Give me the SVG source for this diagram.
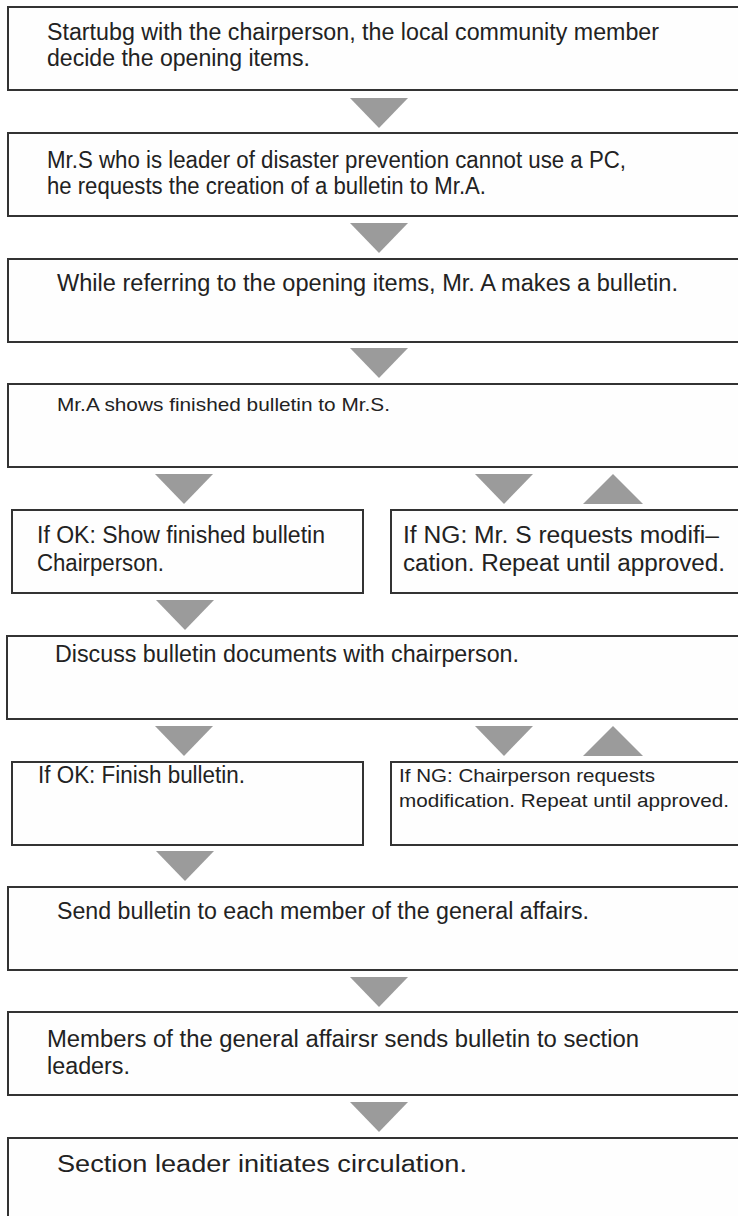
<svg xmlns="http://www.w3.org/2000/svg" width="738" height="1216" viewBox="0 0 738 1216">
  <style>
    .box { fill: #fefefe; stroke: #333; stroke-width: 2; }
    .tri { fill: #9b9b9b; }
    .t { font-family: "Liberation Sans", Arial, sans-serif; font-size: 23px; fill: #222; }
    .s { font-size: 19px; }
  </style>
  <defs>
    <polygon id="down" class="tri" points="-29,0 29,0 0,30"/>
    <polygon id="up" class="tri" points="-30,30 30,30 0,0"/>
  </defs>
  <rect width="738" height="1216" fill="#ffffff"/>

  <!-- flow arrows between steps -->
  <g id="connectors">
    <use href="#down" x="379" y="98"/>
    <use href="#down" x="379" y="223"/>
    <use href="#down" x="379" y="348"/>
    <use href="#down" x="184" y="474"/>
    <use href="#down" x="504" y="474"/>
    <use href="#up" x="613" y="474"/>
    <use href="#down" x="185" y="600"/>
    <use href="#down" x="184" y="726"/>
    <use href="#down" x="504" y="726"/>
    <use href="#up" x="613" y="726"/>
    <use href="#down" x="185" y="851"/>
    <use href="#down" x="379" y="977"/>
    <use href="#down" x="379" y="1102"/>
  </g>

  <g id="step1">
    <rect class="box" x="8" y="7" width="745" height="83"/>
    <text class="t" x="47" y="40" textLength="612" lengthAdjust="spacingAndGlyphs">Startubg with the chairperson, the local community member</text>
    <text class="t" x="47" y="66" textLength="263" lengthAdjust="spacingAndGlyphs">decide the opening items.</text>
  </g>

  <g id="step2">
    <rect class="box" x="8" y="133" width="745" height="83"/>
    <text class="t" x="47" y="168" textLength="579" lengthAdjust="spacingAndGlyphs">Mr.S who is leader of disaster prevention cannot use a PC,</text>
    <text class="t" x="47" y="194" textLength="439" lengthAdjust="spacingAndGlyphs">he requests the creation of a bulletin to Mr.A.</text>
  </g>

  <g id="step3">
    <rect class="box" x="8" y="259" width="745" height="83"/>
    <text class="t" x="57" y="291" textLength="621" lengthAdjust="spacingAndGlyphs">While referring to the opening items, Mr. A makes a bulletin.</text>
  </g>

  <g id="step4">
    <rect class="box" x="8" y="384" width="745" height="83"/>
    <text class="t s" x="57" y="411" textLength="333" lengthAdjust="spacingAndGlyphs">Mr.A shows finished bulletin to Mr.S.</text>
  </g>

  <g id="step5-ok">
    <rect class="box" x="12" y="510" width="351" height="83"/>
    <text class="t" x="37" y="543" textLength="288" lengthAdjust="spacingAndGlyphs">If OK: Show finished bulletin</text>
    <text class="t" x="37" y="571" textLength="127" lengthAdjust="spacingAndGlyphs">Chairperson.</text>
  </g>

  <g id="step5-ng">
    <rect class="box" x="391" y="510" width="360" height="83"/>
    <text class="t" x="403" y="543" textLength="316" lengthAdjust="spacingAndGlyphs">If NG: Mr. S requests modifi–</text>
    <text class="t" x="403" y="571" textLength="322" lengthAdjust="spacingAndGlyphs">cation. Repeat until approved.</text>
  </g>

  <g id="step6">
    <rect class="box" x="7" y="636" width="745" height="83"/>
    <text class="t" x="55" y="662" textLength="464" lengthAdjust="spacingAndGlyphs">Discuss bulletin documents with chairperson.</text>
  </g>

  <g id="step7-ok">
    <rect class="box" x="12" y="762" width="351" height="83"/>
    <text class="t" x="38" y="783" textLength="207" lengthAdjust="spacingAndGlyphs">If OK: Finish bulletin.</text>
  </g>

  <g id="step7-ng">
    <rect class="box" x="391" y="762" width="360" height="83"/>
    <text class="t s" x="399" y="782" textLength="256" lengthAdjust="spacingAndGlyphs">If NG: Chairperson requests</text>
    <text class="t s" x="399" y="807" textLength="330" lengthAdjust="spacingAndGlyphs">modification. Repeat until approved.</text>
  </g>

  <g id="step8">
    <rect class="box" x="8" y="887" width="745" height="83"/>
    <text class="t" x="57" y="919" textLength="532" lengthAdjust="spacingAndGlyphs">Send bulletin to each member of the general affairs.</text>
  </g>

  <g id="step9">
    <rect class="box" x="8" y="1012" width="745" height="83"/>
    <text class="t" x="47" y="1047" textLength="592" lengthAdjust="spacingAndGlyphs">Members of the general affairsr sends bulletin to section</text>
    <text class="t" x="47" y="1074" textLength="83" lengthAdjust="spacingAndGlyphs">leaders.</text>
  </g>

  <g id="step10">
    <rect class="box" x="8" y="1138" width="745" height="100"/>
    <text class="t" x="57" y="1172" textLength="410" lengthAdjust="spacingAndGlyphs">Section leader initiates circulation.</text>
  </g>
</svg>
